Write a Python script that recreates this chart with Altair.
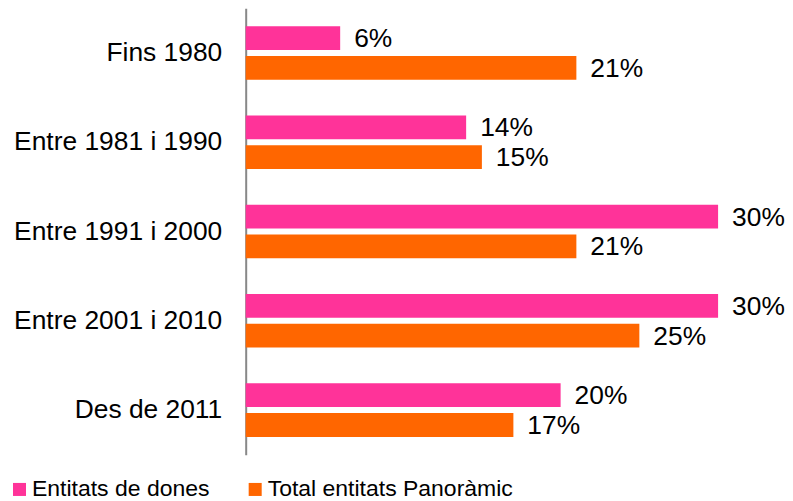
import altair as alt
import pandas as pd

categories = ["Fins 1980", "Entre 1981 i 1990", "Entre 1991 i 2000", "Entre 2001 i 2010", "Des de 2011"]
series = ["Entitats de dones", "Total entitats Panoràmic"]
dones = [6, 14, 30, 30, 20]
total = [21, 15, 21, 25, 17]
colors = ["#FF3399", "#FF6600"]

rows = []
for c, d, t in zip(categories, dones, total):
    rows.append({"cat": c, "series": series[0], "value": d, "label": f"{d}%"})
    rows.append({"cat": c, "series": series[1], "value": t, "label": f"{t}%"})
df = pd.DataFrame(rows)

FONT = "Liberation Sans"

base = alt.Chart(df).encode(
    y=alt.Y("cat:N", sort=categories, title=None,
            scale=alt.Scale(paddingInner=0.4, paddingOuter=0.2),
            axis=alt.Axis(ticks=False, labelPadding=24, labelFontSize=26.4, labelFont=FONT,
                          labelColor="#000000", domainColor="#888888", domainWidth=2,
                          grid=False, labelLimit=400)),
    yOffset=alt.YOffset("series:N", sort=series, scale=alt.Scale(paddingInner=0.2)),
    x=alt.X("value:Q", scale=alt.Scale(domain=[0, 30]), axis=None),
)

bars = base.mark_bar(cornerRadius=0).encode(
    color=alt.Color("series:N", sort=series,
                    scale=alt.Scale(domain=series, range=colors),
                    legend=alt.Legend(title=None, orient="none", direction="horizontal",
                                      legendX=-238, legendY=470,
                                      symbolType="square", symbolSize=170,
                                      symbolStrokeWidth=0, symbolOpacity=1,
                                      labelFontSize=23, labelFont=FONT, labelColor="#000000",
                                      columnPadding=34, labelOffset=1, padding=0,
                                      labelLimit=400))
)

labels = base.mark_text(align="left", baseline="middle", dx=14, dy=1,
                        fontSize=26.4, font=FONT, color="#000000").encode(text="label:N")

chart = (bars + labels).properties(
    width=473, height=447, background="white",
    padding={"left": 0, "top": 0, "right": 0, "bottom": 0}
).configure_view(strokeWidth=0)

chart.save("out.html", embed_options={"renderer": "svg", "actions": False})
